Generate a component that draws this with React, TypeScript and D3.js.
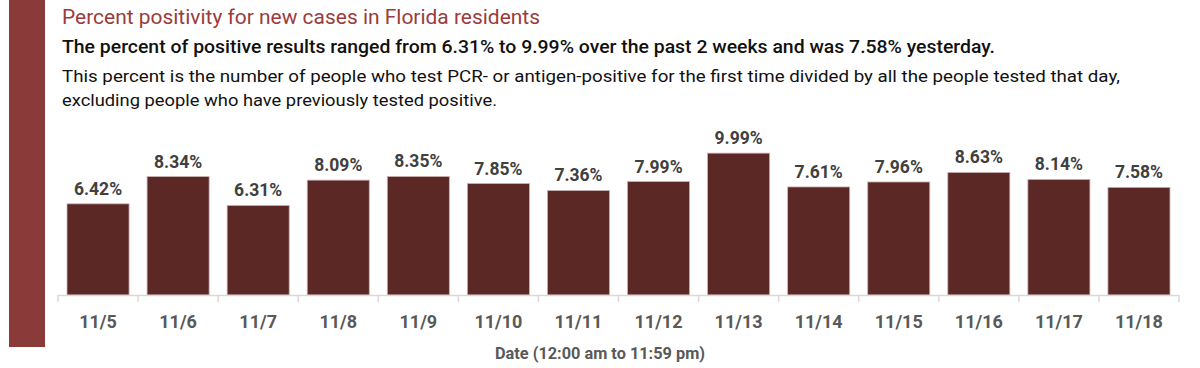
import React from "react";
import * as d3 from "d3";

const dates = ["11/5","11/6","11/7","11/8","11/9","11/10","11/11","11/12","11/13","11/14","11/15","11/16","11/17","11/18"];
const positivity = [6.42, 8.34, 6.31, 8.09, 8.35, 7.85, 7.36, 7.99, 9.99, 7.61, 7.96, 8.63, 8.14, 7.58];

const title = "Percent positivity for new cases in Florida residents";
const subtitle = "The percent of positive results ranged from 6.31% to 9.99% over the past 2 weeks and was 7.58% yesterday.";
const desc1 = "This percent is the number of people who test PCR- or antigen-positive for the first time divided by all the people tested that day,";
const desc2 = "excluding people who have previously tested positive.";
const axisTitle = "Date (12:00 am to 11:59 pm)";

const W = 1200, H = 368;
const FONT = "Roboto, 'Liberation Sans', Arial, sans-serif";

export default function App() {
  const x = d3.scaleBand<string>().domain(dates).range([58, 1179]).paddingInner(0.225).paddingOuter(0.1125);
  const y = d3.scaleLinear().domain([0, 12]).range([295, 124.6]);
  const step = x.step();
  const ticks = d3.range(dates.length + 1).map(i => 58 + i * step);
  return (
    <svg width={W} height={H} style={{ position: "absolute", left: 0, top: 0, background: "#fff" }}>
      <rect x={9} y={0} width={36} height={347} fill="#8B3A3A" />
      <text x={62} y={24} fill="#9B3B3B" fontFamily={FONT} fontSize={20.5} textLength={478} lengthAdjust="spacingAndGlyphs">{title}</text>
      <text x={62} y={53} fill="#111" fontFamily={FONT} fontSize={18.5} fontWeight={500} textLength={933} lengthAdjust="spacingAndGlyphs">{subtitle}</text>
      <text x={62} y={82} fill="#111" fontFamily={FONT} fontSize={17} textLength={1058} lengthAdjust="spacingAndGlyphs">{desc1}</text>
      <text x={62} y={106} fill="#111" fontFamily={FONT} fontSize={17} textLength={435} lengthAdjust="spacingAndGlyphs">{desc2}</text>
      {dates.map((d, i) => (
        <g key={d}>
          <rect x={x(d)} y={y(positivity[i])} width={x.bandwidth()} height={y(0) - y(positivity[i])} fill="#5C2826" stroke="#c9b4b2" strokeWidth={0.8} />
          <text x={(x(d) as number) + x.bandwidth() / 2} y={y(positivity[i]) - 9} textAnchor="middle" fill="#404040" fontFamily={FONT} fontSize={17.5} fontWeight="bold">{positivity[i].toFixed(2)}%</text>
          <text x={(x(d) as number) + x.bandwidth() / 2} y={328} textAnchor="middle" fill="#595959" fontFamily={FONT} fontSize={18} fontWeight="bold">{d}</text>
        </g>
      ))}
      <line x1={58} x2={1179} y1={295.5} y2={295.5} stroke="#d9d9d9" strokeWidth={1.5} />
      {ticks.map((t, i) => (
        <line key={i} x1={t} x2={t} y1={295} y2={302} stroke="#d9d9d9" strokeWidth={1.5} />
      ))}
      <text x={600} y={359} textAnchor="middle" fill="#595959" fontFamily={FONT} fontSize={16.5} fontWeight="bold" textLength={210} lengthAdjust="spacingAndGlyphs">{axisTitle}</text>
    </svg>
  );
}
